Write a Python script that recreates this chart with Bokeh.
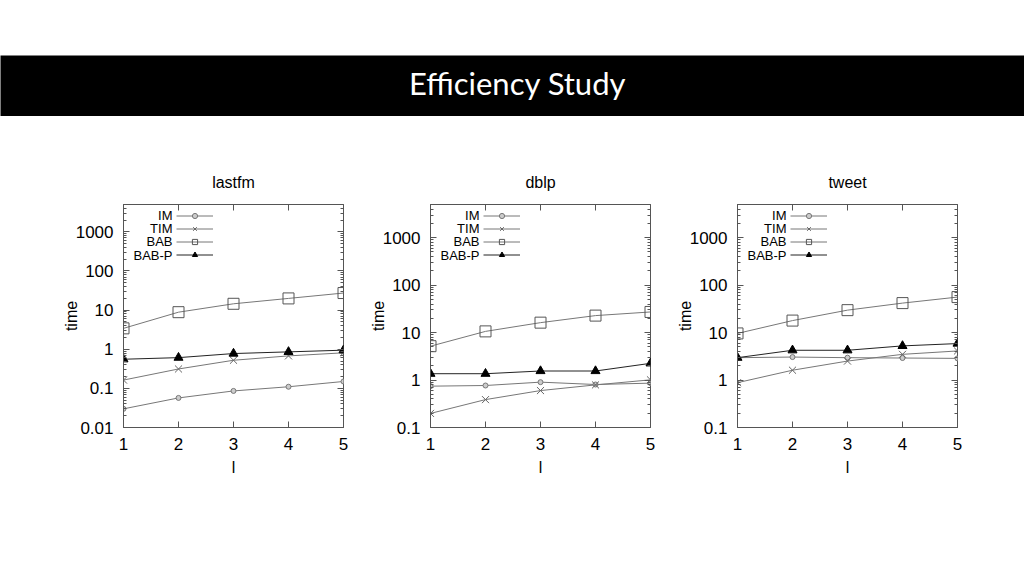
from bokeh.plotting import figure
from bokeh.models import (Range1d, FixedTicker, CustomJSTickFormatter, LogAxis, LinearAxis,
                          Legend, LegendItem, Label, Spacer)
from bokeh.layouts import column, row
from bokeh.embed import file_html
from bokeh.resources import INLINE

# ---------------- data ----------------
ls = [1, 2, 3, 4, 5]
series_names = ["IM", "TIM", "BAB", "BAB-P"]

lastfm_IM = [0.030, 0.057, 0.086, 0.110, 0.150]
lastfm_TIM = [0.163, 0.313, 0.523, 0.676, 0.81]
lastfm_BAB = [3.42, 8.85, 14.5, 19.9, 27.3]
lastfm_BABP = [0.555, 0.61, 0.776, 0.857, 0.946]

dblp_IM = [0.743, 0.767, 0.903, 0.805, 0.86]
dblp_TIM = [0.198, 0.387, 0.60, 0.79, 1.01]
dblp_BAB = [5.17, 10.6, 16.2, 22.8, 27.2]
dblp_BABP = [1.36, 1.36, 1.55, 1.55, 2.25]

tweet_IM = [2.96, 3.05, 2.96, 2.91, 2.86]
tweet_TIM = [0.88, 1.61, 2.51, 3.48, 4.1]
tweet_BAB = [9.6, 17.9, 29.7, 41.8, 56.0]
tweet_BABP = [2.96, 4.24, 4.24, 5.24, 5.87]

yticks_lastfm = [0.01, 0.1, 1, 10, 100, 1000]
yticks_other = [0.1, 1, 10, 100, 1000]

FONT = "Liberation Sans"
AX = "#555555"

styles = {
    "IM": dict(marker="circle", size=5, line_color="#777777", fill_color="#cccccc", lc="#777777"),
    "TIM": dict(marker="x", size=10, line_color="#666666", fill_color=None, lc="#777777"),
    "BAB": dict(marker="square", size=11, line_color="#555555", fill_color=None, lc="#777777"),
    "BAB-P": dict(marker="triangle", size=9, line_color="#000000", fill_color="#000000", lc="#222222"),
}

blank = CustomJSTickFormatter(code="return ''")


def minor_list(major):
    return [m * t for t in major for m in range(2, 10)]


def make_panel(name, ymin, yticks, data, min_left, min_right):
    p = figure(frame_width=220, frame_height=223, y_axis_type="log",
               x_range=Range1d(1, 5), y_range=Range1d(ymin, 5000),
               output_backend="svg", toolbar_location=None,
               min_border_left=min_left, min_border_right=min_right,
               min_border_top=88, min_border_bottom=60, title=name)
    p.title.align = "center"
    p.title.text_font = FONT
    p.title.text_font_size = "16px"
    p.title.text_font_style = "normal"
    p.title.text_color = "black"
    p.title.standoff = 27
    p.grid.visible = False
    p.outline_line_color = AX
    p.background_fill_color = "white"
    p.border_fill_color = "white"

    yt = FixedTicker(ticks=yticks, minor_ticks=minor_list(yticks))
    xt = FixedTicker(ticks=ls, minor_ticks=[])
    p.yaxis.ticker = yt
    p.xaxis.ticker = xt
    p.yaxis.formatter = CustomJSTickFormatter(code="return tick.toString()")

    for ax in (p.xaxis, p.yaxis):
        ax.axis_line_color = AX
        ax.major_tick_line_color = AX
        ax.minor_tick_line_color = AX
        ax.major_tick_in = 6
        ax.major_tick_out = 0
        ax.minor_tick_in = 3
        ax.minor_tick_out = 0
        ax.major_label_text_font = FONT
        ax.major_label_text_font_size = "17px"
        ax.major_label_text_color = "black"
        ax.major_label_standoff = 10
        ax.axis_label_text_font = FONT
        ax.axis_label_text_font_size = "16px"
        ax.axis_label_text_font_style = "normal"
        ax.axis_label_text_color = "black"
    p.yaxis.axis_label = "time"
    p.yaxis.axis_label_standoff = -7
    p.xaxis.axis_label = "l"
    p.xaxis.axis_label_standoff = 6

    right = LogAxis(ticker=yt, formatter=blank, axis_line_color=None, major_tick_line_color=AX,
                    minor_tick_line_color=AX, major_tick_in=6, major_tick_out=0,
                    minor_tick_in=3, minor_tick_out=0, major_label_standoff=0)
    p.add_layout(right, "right")
    top = LinearAxis(ticker=xt, formatter=blank, axis_line_color=None, major_tick_line_color=AX,
                     major_tick_in=6, major_tick_out=0, minor_tick_in=0, minor_tick_out=0,
                     major_label_standoff=0)
    p.add_layout(top, "above")

    items = []
    for nm, ys in zip(series_names, data):
        st = styles[nm]
        lr = p.line(ls, ys, line_color=st["lc"], line_width=1)
        sr = p.scatter(ls, ys, marker=st["marker"], size=st["size"],
                       line_color=st["line_color"], fill_color=st["fill_color"], line_width=1)
        items.append(LegendItem(label=" ", renderers=[lr, sr]))

    leg = Legend(items=items, location=(53, 166), glyph_width=37, glyph_height=13,
                 label_height=13, label_width=1, label_standoff=0, spacing=0, padding=0,
                 margin=0, border_line_color=None, background_fill_alpha=0,
                 label_text_font_size="8px")
    p.add_layout(leg)
    for i, nm in enumerate(series_names):
        p.add_layout(Label(x=49, y=223 - 11 - i * 13.2, x_units="screen", y_units="screen",
                           text=nm, text_align="right", text_baseline="middle",
                           text_font=FONT, text_font_size="13px", text_color="black"))
    return p


p1 = make_panel("lastfm", 0.01, yticks_lastfm,
                [lastfm_IM, lastfm_TIM, lastfm_BAB, lastfm_BABP], 123, 10)
p2 = make_panel("dblp", 0.1, yticks_other,
                [dblp_IM, dblp_TIM, dblp_BAB, dblp_BABP], 77, 10)
p3 = make_panel("tweet", 0.1, yticks_other,
                [tweet_IM, tweet_TIM, tweet_BAB, tweet_BABP], 77, 10)

header = figure(width=1024, height=61, x_range=Range1d(0, 1), y_range=Range1d(0, 1),
                output_backend="svg", toolbar_location=None, min_border=0)
header.axis.visible = False
header.grid.visible = False
header.outline_line_color = None
header.background_fill_color = "black"
header.border_fill_color = "black"
header.add_layout(Label(x=0.505, y=0.55, text="Efficiency Study", text_align="center",
                        text_baseline="middle", text_color="white",
                        text_font="Lato", text_font_size="31px"))

layout = column(Spacer(width=1024, height=55), header, row(p1, p2, p3))

open("out.html", "w").write(file_html(layout, INLINE))
